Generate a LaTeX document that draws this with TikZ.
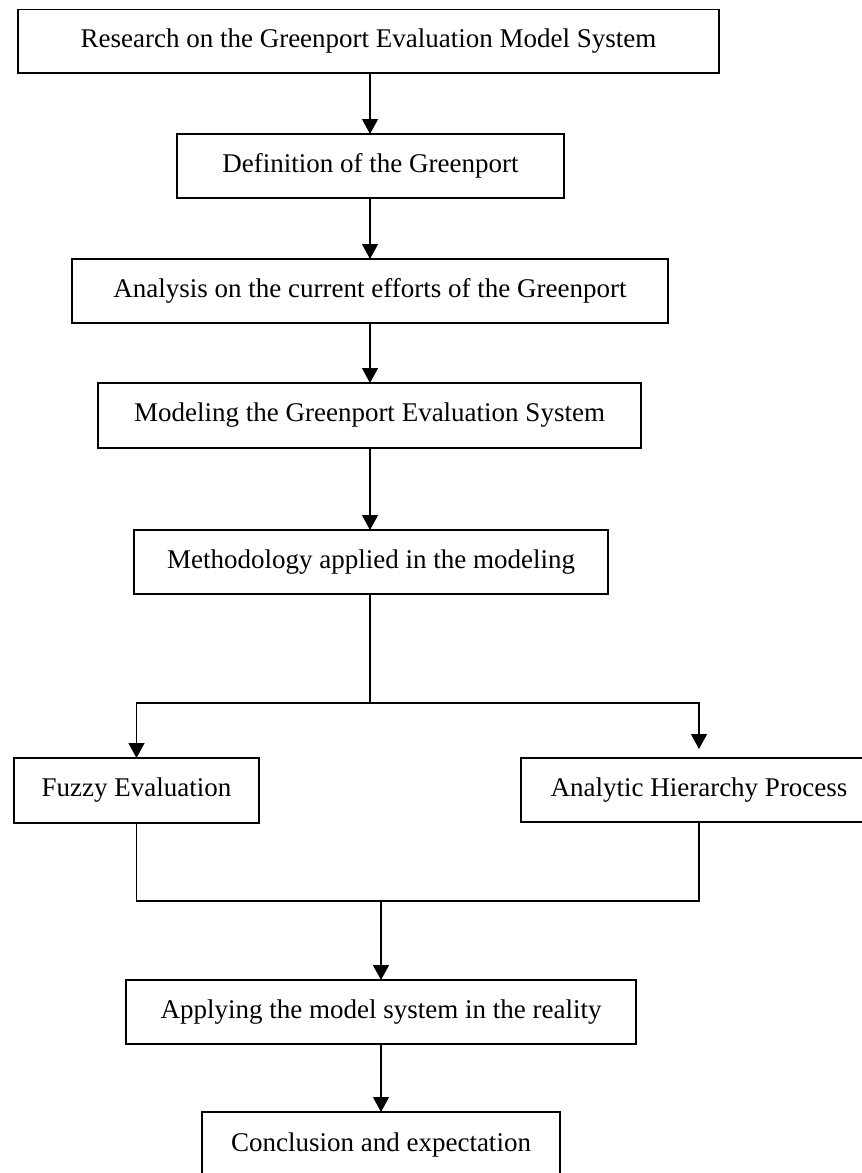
\documentclass[tikz,border=0pt]{standalone}
\usepackage{fontspec}
\setmainfont{Liberation Serif}
\usetikzlibrary{arrows.meta}
\begin{document}
\begin{tikzpicture}[x=1pt,y=-1pt,
  box/.style={draw, line width=1.5pt, rectangle, inner sep=0pt, outer sep=0pt,
    font=\fontsize{27}{31}\selectfont, align=center},
  conn/.style={line width=1.2pt},
  arr/.style={line width=1.2pt, -{Triangle[width=16pt,length=15pt]}}]
\useasboundingbox (0,0) rectangle (862,1173);
\node[box, minimum width=701pt, minimum height=63.5pt] (b1) at (368.5,41.25) {Research on the Greenport Evaluation Model System};
\node[box, minimum width=387pt, minimum height=64pt] (b2) at (370.5,166) {Definition of the Greenport};
\node[box, minimum width=596pt, minimum height=64pt] (b3) at (370,291) {Analysis on the current efforts of the Greenport};
\node[box, minimum width=543pt, minimum height=65pt] (b4) at (369.5,415.5) {Modeling the Greenport Evaluation System};
\node[box, minimum width=474pt, minimum height=64pt] (b5) at (371,562) {Methodology applied in the modeling};
\node[box, minimum width=245pt, minimum height=65pt] (fz) at (136.5,790.5) {Fuzzy Evaluation};
\node[box, minimum width=356pt, minimum height=64pt] (ahp) at (699,790) {Analytic Hierarchy Process};
\node[box, minimum width=510pt, minimum height=64pt] (ap) at (381,1012) {Applying the model system in the reality};
\node[box, minimum width=358pt, minimum height=65pt] (cc) at (381,1144.5) {Conclusion and expectation};
\coordinate (sp) at (370,703);
\coordinate (mg) at (381,901);
\draw[arr] (b1.south -| 370,0) -- (370,0 |- b2.north);
\draw[arr] (b2.south -| 370,0) -- (370,0 |- b3.north);
\draw[arr] (b3.south -| 370,0) -- (370,0 |- b4.north);
\draw[arr] (b4.south -| 370,0) -- (370,0 |- b5.north);
\draw[conn] (b5.south -| sp) -- (sp);
\draw[arr] (sp) -| (fz.north);
\draw[arr, shorten >=9pt] (sp) -| (ahp.north);
\draw[conn] (fz.south) |- (ahp.south |- mg) -- (ahp.south);
\draw[arr] (mg) -- (ap.north);
\draw[arr] (ap.south) -- (cc.north);
\end{tikzpicture}
\end{document}
